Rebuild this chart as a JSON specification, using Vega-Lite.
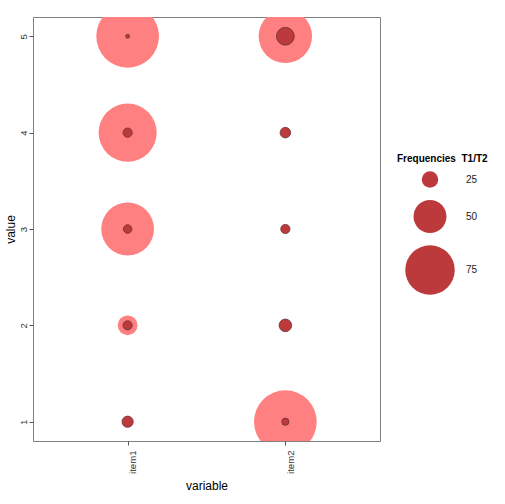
{
  "$schema": "https://vega.github.io/schema/vega-lite/v6.json",
  "width": 347,
  "height": 424,
  "autosize": {"type": "none"},
  "padding": {"left": 33, "top": 17, "right": 125, "bottom": 63},
  "background": "white",
  "config": {
    "view": {"stroke": "#7f7f7f", "strokeWidth": 1},
    "axis": {
      "domain": false,
      "grid": false,
      "tickColor": "#555555",
      "tickSize": 4,
      "labelFont": "Liberation Sans",
      "labelFontSize": 9.6,
      "labelColor": "#333333",
      "titleFont": "Liberation Sans",
      "titleFontSize": 12,
      "titleFontWeight": "normal",
      "titleColor": "#000000"
    },
    "legend": {
      "titleFont": "Liberation Sans",
      "labelFont": "Liberation Sans"
    }
  },
  "datasets": {
    "T1": [
      {"variable": "item1", "value": 5, "freq": 95},
      {"variable": "item1", "value": 4, "freq": 88},
      {"variable": "item1", "value": 3, "freq": 80},
      {"variable": "item1", "value": 2, "freq": 30},
      {"variable": "item1", "value": 1, "freq": 10},
      {"variable": "item2", "value": 5, "freq": 81},
      {"variable": "item2", "value": 4, "freq": 10},
      {"variable": "item2", "value": 3, "freq": 12},
      {"variable": "item2", "value": 2, "freq": 12},
      {"variable": "item2", "value": 1, "freq": 95}
    ],
    "T2": [
      {"variable": "item1", "value": 5, "freq": 6},
      {"variable": "item1", "value": 4, "freq": 14},
      {"variable": "item1", "value": 3, "freq": 13},
      {"variable": "item1", "value": 2, "freq": 14},
      {"variable": "item1", "value": 1, "freq": 17},
      {"variable": "item2", "value": 5, "freq": 27},
      {"variable": "item2", "value": 4, "freq": 16},
      {"variable": "item2", "value": 3, "freq": 14},
      {"variable": "item2", "value": 2, "freq": 19},
      {"variable": "item2", "value": 1, "freq": 11}
    ]
  },
  "encoding": {
    "x": {
      "field": "variable",
      "type": "nominal",
      "scale": {"type": "point", "padding": 0.6, "domain": ["item1", "item2"]},
      "axis": {
        "title": "variable",
        "labelAngle": 270,
        "labelAlign": "right",
        "labelBaseline": "top",
        "labelPadding": 5,
        "titlePadding": 7
      }
    },
    "y": {
      "field": "value",
      "type": "quantitative",
      "scale": {"domain": [0.8, 5.2], "nice": false, "zero": false},
      "axis": {
        "title": "value",
        "values": [1, 2, 3, 4, 5],
        "labelAngle": 270,
        "labelAlign": "center",
        "labelBaseline": "bottom",
        "labelPadding": 1,
        "titlePadding": 1
      }
    }
  },
  "resolve": {"legend": {"size": "independent"}},
  "layer": [
    {
      "data": {"name": "T1"},
      "mark": {"type": "circle", "color": "#ff8080", "opacity": 1, "clip": true},
      "encoding": {
        "size": {
          "field": "freq",
          "type": "quantitative",
          "scale": {"type": "pow", "exponent": 2, "domain": [0, 100], "range": [0, 4356]},
          "legend": null
        }
      }
    },
    {
      "data": {"name": "T2"},
      "mark": {
        "type": "circle",
        "fill": "#bd3a3c",
        "fillOpacity": 1,
        "stroke": "#6b3036",
        "strokeWidth": 0.8,
        "strokeOpacity": 1,
        "opacity": 1,
        "clip": true
      },
      "encoding": {
        "size": {
          "field": "freq",
          "type": "quantitative",
          "scale": {"type": "pow", "exponent": 2, "domain": [0, 100], "range": [0, 4356]},
          "legend": {
            "title": "Frequencies \u00a0T1/T2",
            "orient": "none",
            "legendX": 364,
            "legendY": 137,
            "padding": 0,
            "values": [25, 50, 75],
            "titleFontSize": 10,
            "titleFontWeight": "bold",
            "titleColor": "#000000",
            "titlePadding": 7,
            "labelFontSize": 10,
            "labelColor": "#1a1a1a",
            "symbolType": "circle",
            "symbolOffset": 8,
            "labelOffset": 11,
            "rowPadding": 12,
            "symbolFillColor": "#bf3b3b",
            "symbolStrokeColor": "#bf3b3b",
            "symbolStrokeWidth": 0,
            "symbolOpacity": 1
          }
        }
      }
    }
  ]
}
